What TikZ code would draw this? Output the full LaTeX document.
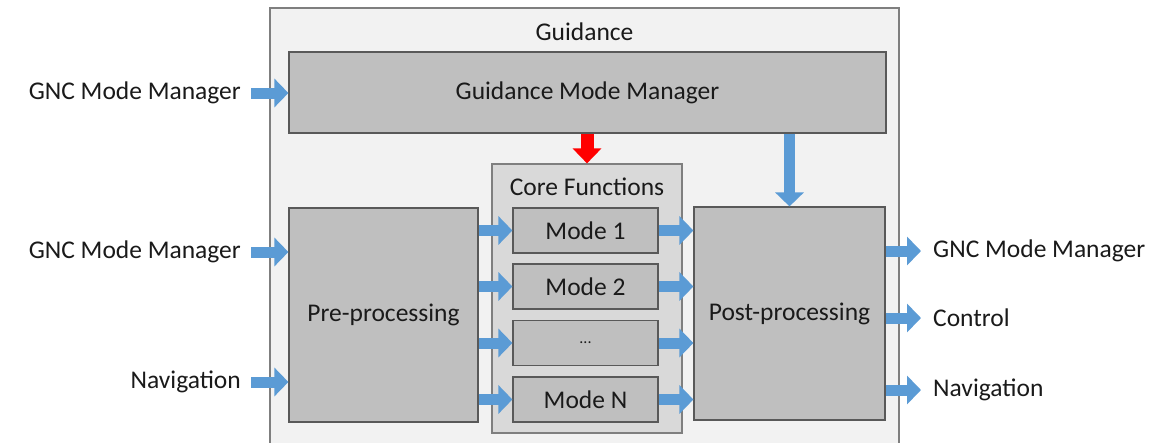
\documentclass[tikz,border=0pt]{standalone}
\usepackage{fontspec}
\setmainfont{Carlito}
\usetikzlibrary{arrows.meta}
\definecolor{outerfill}{HTML}{F2F2F2}
\definecolor{outerdraw}{HTML}{7F7F7F}
\definecolor{boxfill}{HTML}{BFBFBF}
\definecolor{corefill}{HTML}{D9D9D9}
\definecolor{boxdraw}{HTML}{595959}
\definecolor{bluearr}{HTML}{5B9BD5}
\definecolor{txt}{HTML}{1A1A1A}
\tikzset{
  blk/.style={draw=boxdraw, fill=boxfill, line width=1.2pt, inner sep=0pt, text=txt, font=\fontsize{25.5}{30}\selectfont},
  corebox/.style={draw=outerdraw, fill=corefill, line width=1.2pt, inner sep=0pt},
  outerbox/.style={draw=outerdraw, fill=outerfill, line width=1.2pt, inner sep=0pt},
  barrow/.style={draw=bluearr, line width=11pt, -{Triangle[width=28pt,length=14pt]}},
  rarrow/.style={draw=red, line width=13pt, -{Triangle[width=28pt,length=15pt]}},
  lbl/.style={text=txt, font=\fontsize{25.5}{30}\selectfont, inner sep=0pt},
}
\begin{document}
\begin{tikzpicture}[x=1pt,y=-1pt]
\useasboundingbox (0,0) rectangle (1158,442);
\clip (0,0) rectangle (1158,442);
\fill[white] (0,0) rectangle (1158,442);
% outer box
\node[outerbox, minimum width=629pt, minimum height=442pt] (outer) at (584.5,229) {};
\node[lbl] (title) at (584.5,32) {Guidance};
% boxes
\node[blk, minimum width=597pt, minimum height=81pt] (gmm) at (587.5,92.5) {Guidance Mode Manager};
\node[corebox, minimum width=190pt, minimum height=269pt] (core) at (587,298.5) {};
\node[lbl] (coretitle) at (587,187) {Core Functions};
\node[blk, minimum width=189pt, minimum height=214pt] (pre) at (383.5,315) {Pre-processing};
\node[blk, minimum width=191pt, minimum height=213pt] (post) at (789.5,313.5) {Post-processing};
\node[blk, minimum width=145pt, minimum height=45pt] (m1) at (585.5,230.5) {Mode 1};
\node[blk, minimum width=145pt, minimum height=45pt] (m2) at (585.5,286.5) {Mode 2};
\node[blk, minimum width=145pt, minimum height=45pt] (m3) at (585.5,343) {\fontsize{16}{18}\selectfont ...};
\node[blk, minimum width=145pt, minimum height=45pt] (mn) at (585.5,399.5) {Mode N};
% inputs
\coordinate (in1) at (251,93);
\coordinate (in2) at (251,252);
\coordinate (in3) at (251,382);
\node[lbl, anchor=east] (l1) at (241,93) {GNC Mode Manager};
\node[lbl, anchor=east] (l2) at (241,252) {GNC Mode Manager};
\node[lbl, anchor=east] (l3) at (241,382) {Navigation};
\draw[barrow] (in1) -- (in1 -| gmm.west);
\draw[barrow] (in2) -- (in2 -| pre.west);
\draw[barrow] (in3) -- (in3 -| pre.west);
% outputs
\coordinate (out1) at (921,251);
\coordinate (out2) at (921,318);
\coordinate (out3) at (921,390);
\draw[barrow] (out1 -| post.east) -- (out1);
\draw[barrow] (out2 -| post.east) -- (out2);
\draw[barrow] (out3 -| post.east) -- (out3);
\node[lbl, anchor=west] (r1) at (933,251) {GNC Mode Manager};
\node[lbl, anchor=west] (r2) at (933,318) {Control};
\node[lbl, anchor=west] (r3) at (933,390) {Navigation};
% pre -> modes, modes -> post
\foreach \m in {m1,m2,m3,mn}{
  \draw[barrow] (\m -| pre.east) -- (\m.west);
  \draw[barrow] (\m.east) -- (\m -| post.west);
}
% vertical arrows
\draw[rarrow] (core.north |- gmm.south) -- (core.north);
\draw[barrow] (post.north |- gmm.south) -- (post.north);
\end{tikzpicture}
\end{document}
